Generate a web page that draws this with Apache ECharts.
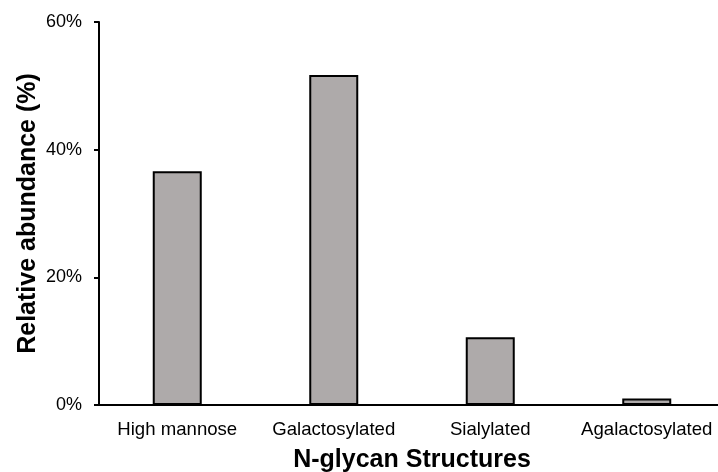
<!DOCTYPE html>
<html>
<head>
<meta charset="utf-8">
<style>
  html, body { margin: 0; padding: 0; background: #fff; }
  #chart { width: 718px; height: 472px; }
</style>
<script src="https://cdn.jsdelivr.net/npm/echarts@6/dist/echarts.min.js"></script>
</head>
<body>
<div id="chart"></div>
<script>
// N-glycan structure classes and their relative abundance (%)
const categories = ['High mannose', 'Galactosylated', 'Sialylated', 'Agalactosylated'];
const abundance = [36.6, 51.7, 10.6, 1.0];
const yTicks = { min: 0, max: 60, interval: 20 };

const font = '"Liberation Sans", Arial, sans-serif';

const chart = echarts.init(document.getElementById('chart'), null, { renderer: 'canvas' });
chart.setOption({
  animation: false,
  backgroundColor: '#ffffff',
  grid: {
    left: 99, top: 22, width: 626, height: 383,
    containLabel: false,
    outerBoundsMode: 'none'
  },
  xAxis: {
    type: 'category',
    data: categories,
    name: 'N-glycan Structures',
    nameLocation: 'middle',
    nameGap: 43,
    nameMoveOverlap: false,
    nameTextStyle: { fontFamily: font, fontSize: 25, fontWeight: 'bold', color: '#000' },
    axisLine: { show: true, lineStyle: { color: '#000', width: 2 } },
    axisTick: { show: false },
    axisLabel: { fontFamily: font, fontSize: 18.6, color: '#000', margin: 15, interval: 0 },
    splitLine: { show: false }
  },
  yAxis: {
    type: 'value',
    min: yTicks.min,
    max: yTicks.max,
    interval: yTicks.interval,
    name: 'Relative abundance (%)',
    nameLocation: 'middle',
    nameRotate: 90,
    nameGap: 58,
    nameMoveOverlap: false,
    nameTextStyle: { fontFamily: font, fontSize: 25, fontWeight: 'bold', color: '#000' },
    axisLine: { show: true, lineStyle: { color: '#000', width: 2 } },
    axisTick: { show: true, inside: false, length: 5, lineStyle: { color: '#000', width: 2 } },
    axisLabel: { fontFamily: font, fontSize: 18, color: '#000', margin: 17, formatter: '{value}%' },
    splitLine: { show: false }
  },
  series: [{
    type: 'bar',
    data: abundance,
    barWidth: 49,
    itemStyle: { color: '#AEAAAA', borderColor: '#000', borderWidth: 2 }
  }]
});
</script>
</body>
</html>
